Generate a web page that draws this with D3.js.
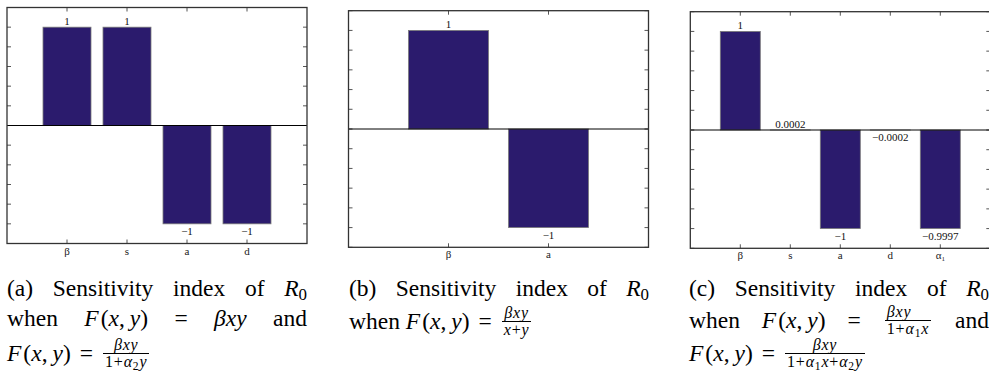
<!DOCTYPE html>
<html>
<head>
<meta charset="utf-8">
<script src="https://cdn.jsdelivr.net/npm/d3@7"></script>
<style>
  body { margin: 0; background: #fff; width: 989px; height: 382px; overflow: hidden; position: relative; }
  svg { position: absolute; left: 0; top: 0; }
  .cap { position: absolute; width: 300px; font-family: 'Liberation Serif', 'Times New Roman', serif; font-size: 23.5px; color: #000; }
  .ln { position: absolute; left: 0; width: 300px; height: 30px; line-height: 30px; white-space: nowrap; }
  .j { text-align: justify; text-align-last: justify; white-space: normal; }
  .sb { font-size: 0.72em; vertical-align: -0.25em; font-style: normal; }
  .cm { margin-left: 5px; }
  .f { margin-right: 2px; }
  .eq { margin: 0 8px 0 9px; }
  .frac { display: inline-block; vertical-align: -6px; text-align: center; font-size: 16px; letter-spacing: 0.8px; margin: 0 2px; }
  .frac > span { display: block; line-height: 16px; padding: 0 2px; }
  .frac .num { border-bottom: 1px solid #000; }
</style>
</head>
<body>
<svg id="chart" width="989" height="382"></svg>
<script>
// sensitivity indices, one set per panel
const catsA = ['β', 's', 'a', 'd'];
const valsA = [1, 1, -1, -1];

const catsB = ['β', 'a'];
const valsB = [1, -1];

const catsC = ['β', 's', 'a', 'd', 'α_1'];
const valsC = [1, 0.0002, -1, -0.0002, -0.9997];

const yTicks = [-1.2, 1.2];   // y domain, ticks every 0.2

const barColor = '#2b1b6d';
const fmt = d3.format('~g');

const panels = [
  { cats: catsA, vals: valsA, left: 7,     top: 7.5,  width: 300, height: 236 },
  { cats: catsB, vals: valsB, left: 348.5, top: 10.7, width: 300, height: 236.6 },
  { cats: catsC, vals: valsC, left: 690.3, top: 11.7, width: 300, height: 236.6 }
];

const svg = d3.select('#chart');

panels.forEach((p) => {
  let n = p.cats.length;
  let x = d3.scaleLinear().domain([0, n + 1]).range([0, p.width]);
  let y = d3.scaleLinear().domain(yTicks).range([p.height, 0]);
  let bw = x(0.8) - x(0);

  let g = svg.append('g')
    .attr('transform', `translate(${p.left},${p.top})`);

  // ticks inward on all four sides
  let tl = 4;
  let yt = y.ticks(12);
  g.selectAll('.ytl').data(yt).enter().append('line')
    .attr('x1', 0).attr('x2', tl)
    .attr('y1', d => y(d)).attr('y2', d => y(d))
    .style('stroke', '#555').style('stroke-width', 1);
  g.selectAll('.ytr').data(yt).enter().append('line')
    .attr('x1', p.width - tl).attr('x2', p.width)
    .attr('y1', d => y(d)).attr('y2', d => y(d))
    .style('stroke', '#555').style('stroke-width', 1);
  g.selectAll('.xtt').data(p.cats).enter().append('line')
    .attr('x1', (d, i) => x(i + 1)).attr('x2', (d, i) => x(i + 1))
    .attr('y1', 0).attr('y2', tl)
    .style('stroke', '#555').style('stroke-width', 1);
  g.selectAll('.xtb').data(p.cats).enter().append('line')
    .attr('x1', (d, i) => x(i + 1)).attr('x2', (d, i) => x(i + 1))
    .attr('y1', p.height - tl).attr('y2', p.height)
    .style('stroke', '#555').style('stroke-width', 1);

  // bars
  g.selectAll('.bar').data(p.vals).enter().append('rect')
    .attr('x', (d, i) => x(i + 1) - bw / 2)
    .attr('y', d => Math.min(y(d), y(0)))
    .attr('width', bw)
    .attr('height', d => Math.abs(y(d) - y(0)))
    .style('fill', barColor)
    .style('stroke', '#7a7a7a')
    .style('stroke-width', 0.8);

  // zero line
  g.append('line')
    .attr('x1', 0).attr('x2', p.width)
    .attr('y1', y(0)).attr('y2', y(0))
    .style('stroke', '#000').style('stroke-width', 1);

  // value labels
  g.selectAll('.val').data(p.vals).enter().append('text')
    .attr('x', (d, i) => x(i + 1))
    .attr('y', d => d >= 0 ? y(d) - 2 : y(d) + 11)
    .attr('text-anchor', 'middle')
    .style('font-family', "'Liberation Serif', serif")
    .style('font-size', '11px')
    .style('fill', '#111')
    .text(d => fmt(d));

  // category labels under the axis
  let cl = g.selectAll('.cat').data(p.cats).enter().append('text')
    .attr('x', (d, i) => x(i + 1))
    .attr('y', p.height + 11)
    .attr('text-anchor', 'middle')
    .style('font-family', "'Liberation Serif', serif")
    .style('font-size', '11px')
    .style('fill', '#222');
  cl.each(function (d) {
    let parts = d.split('_');
    let t = d3.select(this);
    t.append('tspan').text(parts[0]);
    if (parts[1]) {
      t.append('tspan').attr('dy', 2).style('font-size', '7px').text(parts[1]);
    }
  });

  // axes box
  g.append('rect')
    .attr('x', 0).attr('y', 0)
    .attr('width', p.width).attr('height', p.height)
    .style('fill', 'none')
    .style('stroke', '#333')
    .style('stroke-width', 1.3);
});
</script>

<div class="cap" style="left:7px;top:0">
  <div class="ln j" style="top:273px">(a) Sensitivity index of <i>R</i><span class="sb">0</span></div>
  <div class="ln j" style="top:302.5px">when <i class="f">F</i>(<i>x</i>,<i class="cm">y</i>) = <i>βxy</i> and</div>
  <div class="ln" style="top:337px"><i class="f">F</i>(<i>x</i>,<i class="cm">y</i>)<span class="eq">=</span><span class="frac"><span class="num"><i>βxy</i></span><span class="den">1+<i>α</i><span class="sb">2</span><i>y</i></span></span></div>
</div>
<div class="cap" style="left:349px;top:0">
  <div class="ln j" style="top:273px">(b) Sensitivity index of <i>R</i><span class="sb">0</span></div>
  <div class="ln" style="top:304.5px">when <i class="f">F</i>(<i>x</i>,<i class="cm">y</i>)<span class="eq">=</span><span class="frac"><span class="num"><i>βxy</i></span><span class="den"><i>x</i>+<i>y</i></span></span></div>
</div>
<div class="cap" style="left:689px;top:0">
  <div class="ln j" style="top:273px">(c) Sensitivity index of <i>R</i><span class="sb">0</span></div>
  <div class="ln j" style="top:304px">when <i class="f">F</i>(<i>x</i>,<i class="cm">y</i>) = <span class="frac"><span class="num"><i>βxy</i></span><span class="den">1+<i>α</i><span class="sb">1</span><i>x</i></span></span> and</div>
  <div class="ln" style="top:337px"><i class="f">F</i>(<i>x</i>,<i class="cm">y</i>)<span class="eq">=</span><span class="frac"><span class="num"><i>βxy</i></span><span class="den">1+<i>α</i><span class="sb">1</span><i>x</i>+<i>α</i><span class="sb">2</span><i>y</i></span></span></div>
</div>
</body>
</html>
